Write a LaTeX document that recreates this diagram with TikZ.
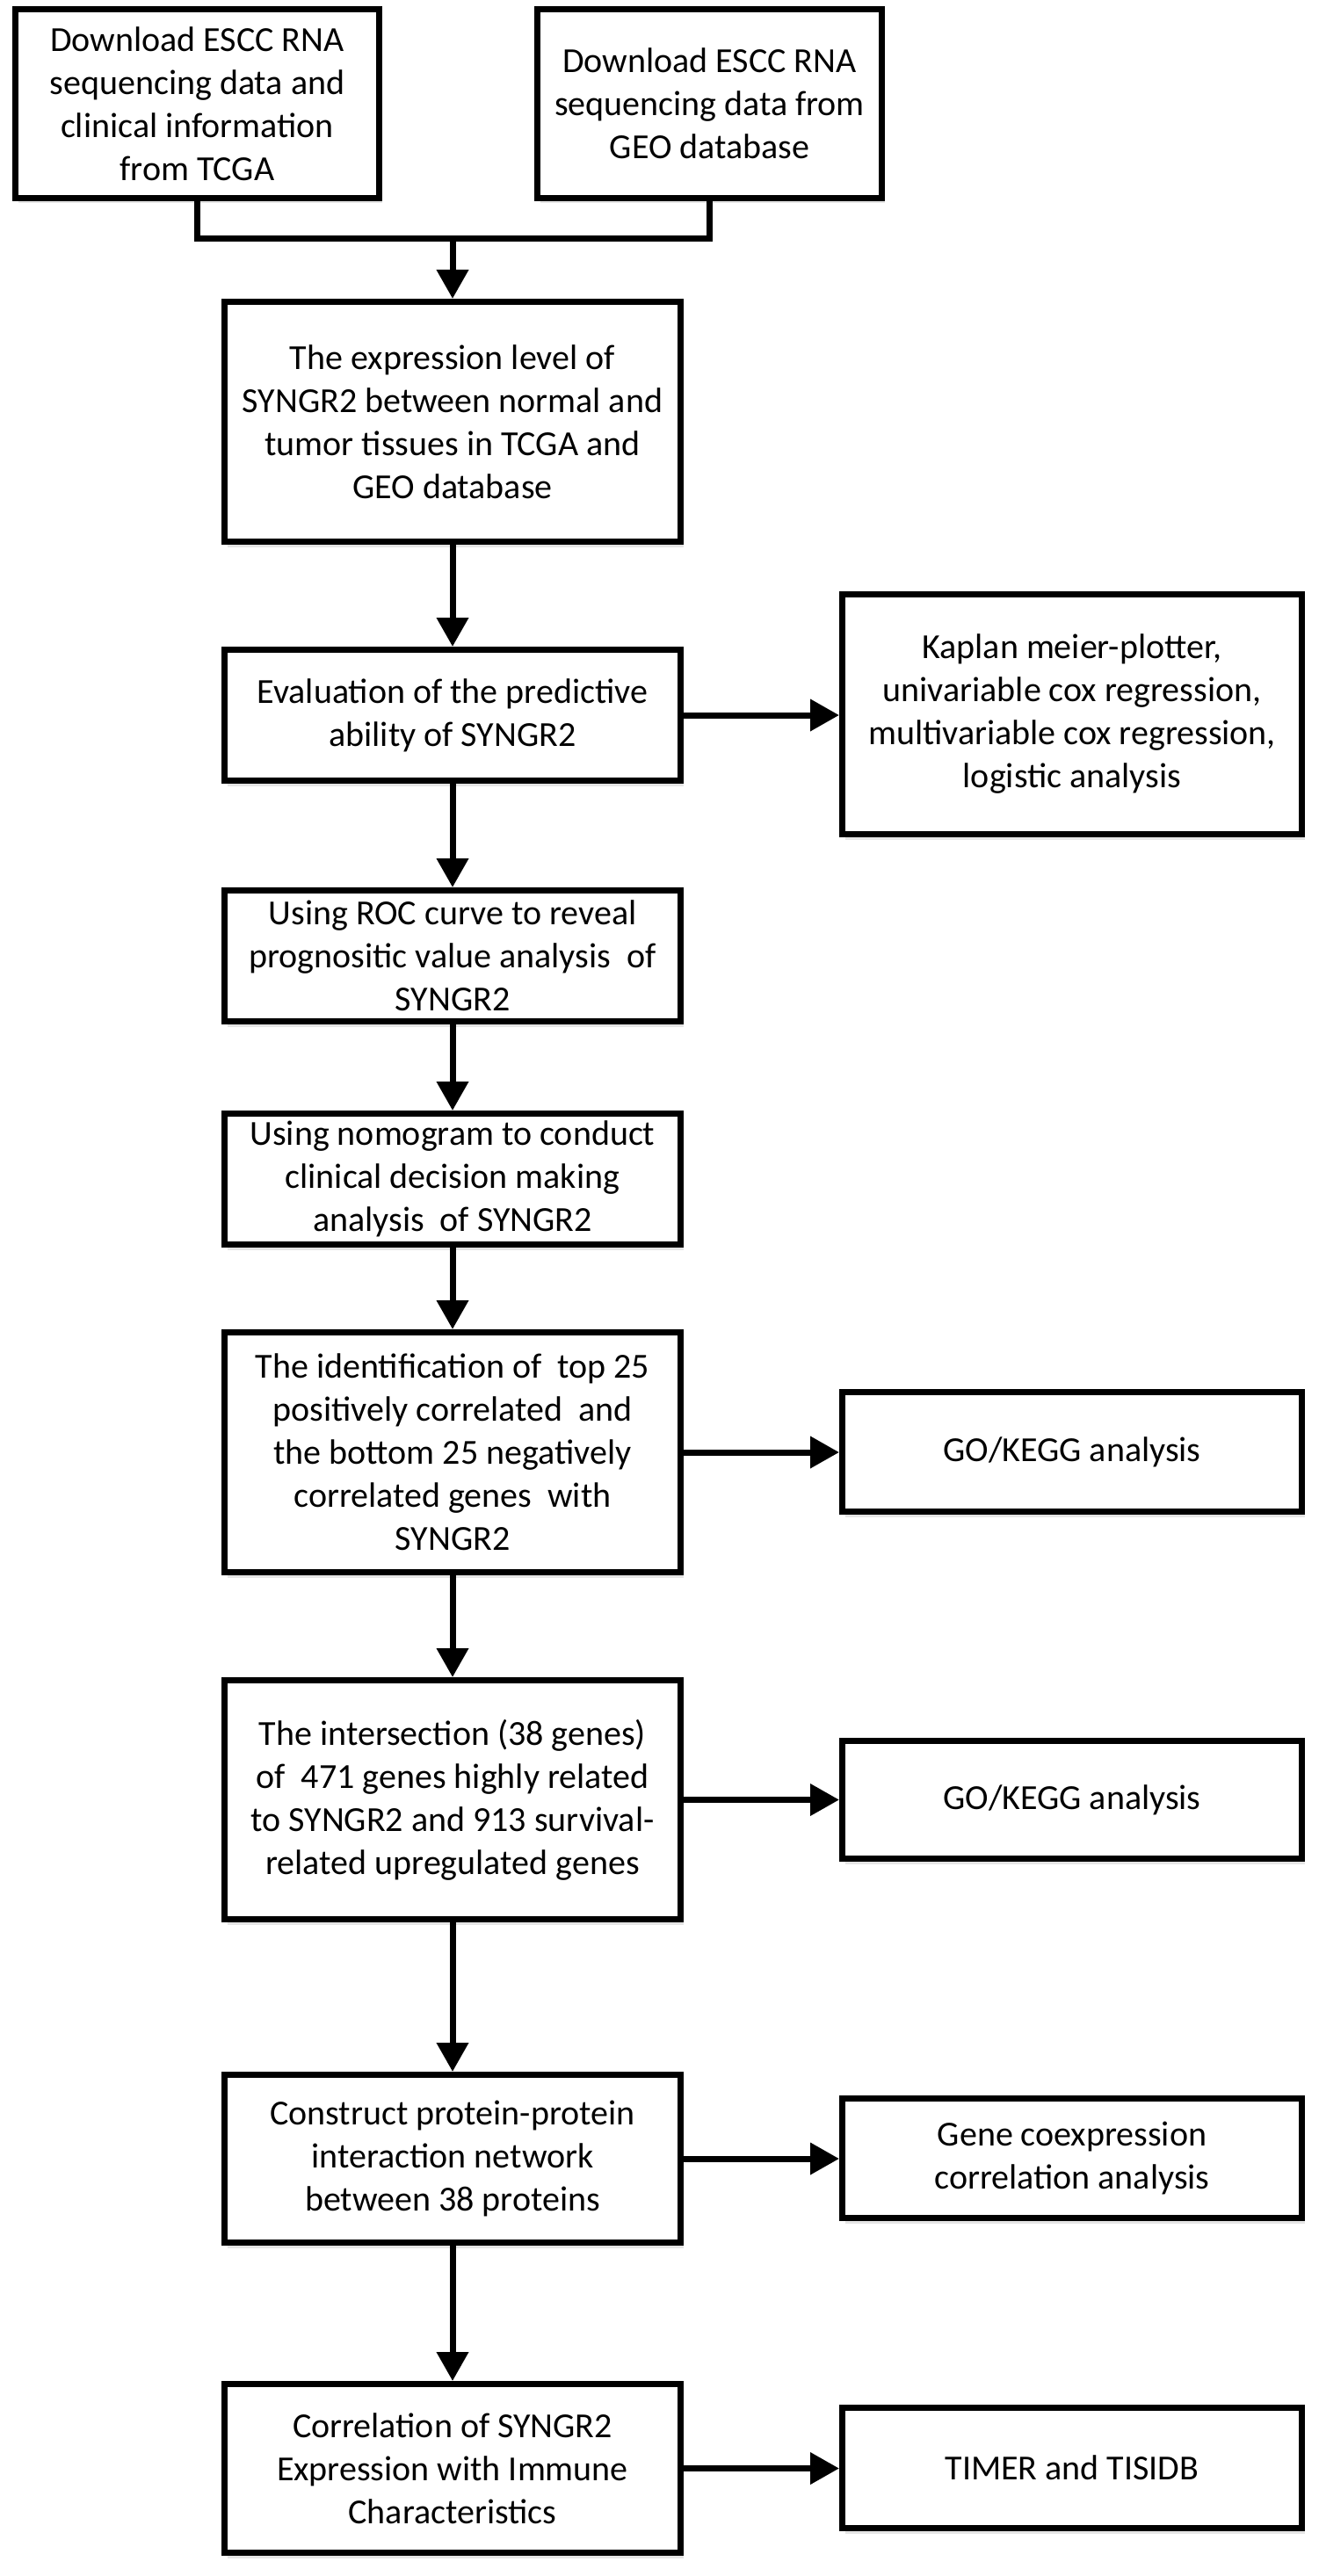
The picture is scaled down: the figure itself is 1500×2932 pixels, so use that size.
\documentclass[tikz,border=0pt]{standalone}
\usepackage{fontspec}
\setmainfont{Carlito}
\usetikzlibrary{arrows.meta,shadows}
\begin{document}
\begin{tikzpicture}[x=0.5pt,y=-0.5pt,
  box/.style={draw=black, line width=3.5pt, fill=white, align=center,
    inner sep=0pt, font=\fontsize{20pt}{24.5pt}\selectfont,
    drop shadow={shadow xshift=1.5pt, shadow yshift=-3pt, opacity=0.10, fill=black}},
  mainbox/.style={box, minimum width=259.5pt},
  sidebox/.style={box, minimum width=261.5pt},
  conn/.style={line width=3.5pt, line join=miter, line cap=rect},
  arr/.style={line width=3.5pt, -{Triangle[length=16.5pt, width=17.5pt]}}
]
\useasboundingbox (0,0) rectangle (1500,2932);

% top sources
\node[box, minimum width=207pt, minimum height=107.5pt] (b1) at (224.5,118)
  {Download ESCC RNA\\sequencing data and\\clinical information\\from TCGA};
\node[box, minimum width=196pt, minimum height=107.5pt] (b2) at (807.5,118)
  {Download ESCC RNA\\sequencing data from\\GEO database};

% main column
\node[mainbox, minimum height=136.5pt] (b3) at (515,480)
  {The expression level of\\SYNGR2 between normal and\\tumor tissues in TCGA and\\GEO database};
\node[mainbox, minimum height=74.5pt] (b4) at (515,814)
  {Evaluation of the predictive\\ability of SYNGR2};
\node[mainbox, minimum height=74.5pt] (b5) at (515,1088)
  {Using ROC curve to reveal\\prognositic value analysis\ \ of\\SYNGR2};
\node[mainbox, minimum height=74.5pt] (b6) at (515,1342)
  {Using nomogram to conduct\\clinical decision making\\analysis\ \ of SYNGR2};
\node[mainbox, minimum height=136.5pt] (b7) at (515,1653)
  {The identification of\ \ top 25\\positively correlated\ \ and\\the bottom 25 negatively\\correlated genes\ \ with\\SYNGR2};
\node[mainbox, minimum height=136pt] (b8) at (515,2048.5)
  {The intersection (38 genes)\\of\ \ 471 genes highly related\\to SYNGR2 and 913 survival-\\related upregulated genes};
\node[mainbox, minimum height=95.5pt] (b9) at (515,2457)
  {Construct protein-protein\\interaction network\\between 38 proteins};
\node[mainbox, minimum height=96pt] (b10) at (515,2809.5)
  {Correlation of SYNGR2\\Expression with Immune\\Characteristics};

% side column
\node[sidebox, minimum height=136.5pt] (k) at (1220,813)
  {Kaplan meier-plotter,\\univariable cox regression,\\multivariable cox regression,\\logistic analysis};
\node[sidebox, minimum height=68pt] (g1) at (1220,1652.5) {GO/KEGG analysis};
\node[sidebox, minimum height=67pt] (g2) at (1220,2048.5) {GO/KEGG analysis};
\node[sidebox, minimum height=68pt] (gc) at (1220,2456.5)
  {Gene coexpression\\correlation analysis};
\node[sidebox, minimum height=68.5pt] (t) at (1220,2809) {TIMER and TISIDB};

% merge connector
\coordinate (j) at (515,272);
\draw[conn] (b1.south) |- (j) -| (b2.south);
\draw[arr] (j) -- (b3.north);

% vertical arrows
\draw[arr] (b3.south) -- (b4.north);
\draw[arr] (b4.south) -- (b5.north);
\draw[arr] (b5.south) -- (b6.north);
\draw[arr] (b6.south) -- (b7.north);
\draw[arr] (b7.south) -- (b8.north);
\draw[arr] (b8.south) -- (b9.north);
\draw[arr] (b9.south) -- (b10.north);

% horizontal arrows
\draw[arr] (b4.east) -- (b4.east -| k.west);
\draw[arr] (b7.east) -- (b7.east -| g1.west);
\draw[arr] (b8.east) -- (b8.east -| g2.west);
\draw[arr] (b9.east) -- (b9.east -| gc.west);
\draw[arr] (b10.east) -- (b10.east -| t.west);
\end{tikzpicture}
\end{document}
